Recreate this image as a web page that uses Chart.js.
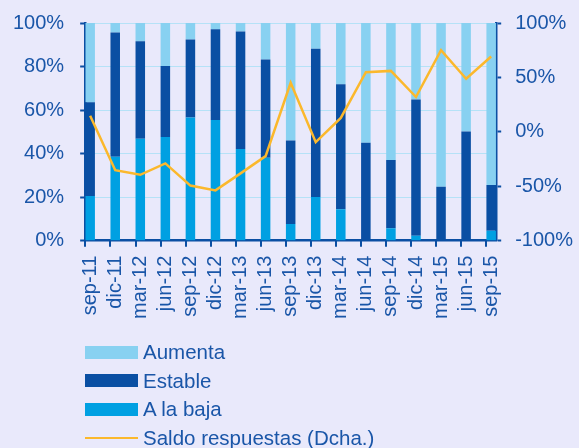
<!DOCTYPE html>
<html>
<head>
<meta charset="utf-8">
<script src="https://cdn.jsdelivr.net/npm/chart.js@4"></script>
<style>
  body { margin: 0; background: #e9e9fb; }
  #caja { position: relative; width: 579px; height: 448px; background: #e9e9fb; font-family: "Liberation Sans", Arial, sans-serif; overflow: hidden; }
  #zona { position: absolute; left: -20px; top: -5px; width: 619px; height: 352px; }
  #leyenda { position: absolute; left: 85px; top: 338px; }
  .item { height: 28.5px; display: flex; align-items: center; font-size: 20.5px; color: #1a56a8; }
  .muestra { width: 53px; margin-right: 5px; }
</style>
</head>
<body>
<div id="caja">
  <div id="zona"><canvas id="grafico"></canvas></div>
  <div id="leyenda"></div>
</div>
<script>
const categorias = ['sep-11', 'dic-11', 'mar-12', 'jun-12', 'sep-12', 'dic-12', 'mar-13', 'jun-13', 'sep-13',
                    'dic-13', 'mar-14', 'jun-14', 'sep-14', 'dic-14', 'mar-15', 'jun-15', 'sep-15'];
const aLaBaja = [20.5, 38.5, 46.8, 47.6, 56.6, 55.4, 42.1, 38.1, 7.7, 20.0, 14.4, 0, 5.7, 2.3, 0, 0, 4.6];
const estable = [43.1, 57.1, 44.8, 32.7, 35.8, 41.7, 54.0, 45.1, 38.3, 68.2, 57.5, 45.0, 31.3, 62.6, 24.8, 50.2, 21.0];
const aumenta = [36.4, 4.4, 8.4, 19.7, 7.6, 2.9, 3.9, 16.8, 54.0, 11.8, 28.1, 55.0, 63.0, 35.1, 75.2, 49.8, 74.4];
const saldo = [14.8, -35.3, -39.5, -29.0, -49.4, -53.8, -38.2, -22.3, 45.0, -9.5, 12.8, 54.8, 56.0, 32.0, 75.0, 48.8, 69.2];
const ticksIzq = [0, 20, 40, 60, 80, 100];
const ticksDer = [-100, -50, 0, 50, 100];

const azul = '#0b4fa3';
const texto = '#1a56a8';
const rejilla = '#b5e2f7';
const fuente = { family: '"Liberation Sans", Arial, sans-serif', size: 20 };

const puntos = arr => arr.map((v, i) => ({ x: i, y: v }));

// marcas del eje X en el borde izquierdo de cada barra
const marcasX = {
    id: 'marcasX',
    afterDraw(chart) {
        const ctx = chart.ctx;
        const abajo = chart.chartArea.bottom;
        ctx.save();
        ctx.strokeStyle = azul;
        ctx.lineWidth = 2;
        chart.getDatasetMeta(0).data.forEach(b => {
            const x = Math.round(b.x - b.width / 2);
            ctx.beginPath();
            ctx.moveTo(x, abajo);
            ctx.lineTo(x, abajo + 6);
            ctx.stroke();
        });
        ctx.restore();
    }
};

const grafico = new Chart(document.getElementById('grafico'), {
    type: 'bar',
    data: {
        datasets: [
            { label: 'A la baja', data: puntos(aLaBaja), backgroundColor: '#00a0e2', stack: 'a', order: 1 },
            { label: 'Estable', data: puntos(estable), backgroundColor: '#0a4fa3', stack: 'a', order: 1 },
            { label: 'Aumenta', data: puntos(aumenta), backgroundColor: '#88d1f1', stack: 'a', order: 1 },
            {
                type: 'line', label: 'Saldo respuestas (Dcha.)', data: puntos(saldo), yAxisID: 'y2',
                borderColor: '#fbb82c', backgroundColor: '#fbb82c', borderWidth: 2.5,
                pointRadius: 0, tension: 0, order: 0
            }
        ]
    },
    options: {
        responsive: true,
        maintainAspectRatio: false,
        animation: false,
        layout: { padding: { top: 0, right: 12, left: 17, bottom: 13 } },
        datasets: { bar: { barPercentage: 0.38, categoryPercentage: 1 } },
        plugins: { legend: { display: false }, tooltip: { enabled: false } },
        scales: {
            x: {
                type: 'linear', min: -0.2, max: 16.2, offset: false,
                afterBuildTicks: s => { s.ticks = categorias.map((c, i) => ({ value: i })); },
                grid: { display: false, drawTicks: false, offset: false },
                border: { display: true, color: azul, width: 2.5 },
                ticks: {
                    autoSkip: false, maxRotation: 90, minRotation: 90, padding: 15,
                    color: texto, font: fuente,
                    callback: v => categorias[v] ?? ''
                }
            },
            y: {
                position: 'left', stacked: true, min: 0, max: 100,
                afterBuildTicks: s => { s.ticks = ticksIzq.map(v => ({ value: v })); },
                grid: { color: rejilla, lineWidth: 1, tickLength: 5, tickColor: azul, tickWidth: 2 },
                border: { color: azul, width: 2.5 },
                ticks: { padding: 16, color: texto, font: fuente, callback: v => v + '%' }
            },
            y2: {
                position: 'right', min: -100, max: 100,
                afterBuildTicks: s => { s.ticks = ticksDer.map(v => ({ value: v })); },
                grid: { drawOnChartArea: false, tickLength: 5, tickColor: azul, tickWidth: 2 },
                border: { color: azul, width: 2.5 },
                ticks: { padding: 14, color: texto, font: fuente, callback: v => v + '%' }
            }
        }
    },
    plugins: [marcasX]
});

// leyenda vertical, en el orden del original
const leyenda = document.getElementById('leyenda');
[2, 1, 0, 3].forEach(i => {
    const ds = grafico.data.datasets[i];
    const item = document.createElement('div');
    item.className = 'item';
    const muestra = document.createElement('span');
    muestra.className = 'muestra';
    muestra.style.background = ds.backgroundColor;
    muestra.style.height = ds.type === 'line' ? '2px' : '13px';
    item.appendChild(muestra);
    item.appendChild(document.createTextNode(ds.label));
    leyenda.appendChild(item);
});
</script>
</body>
</html>
